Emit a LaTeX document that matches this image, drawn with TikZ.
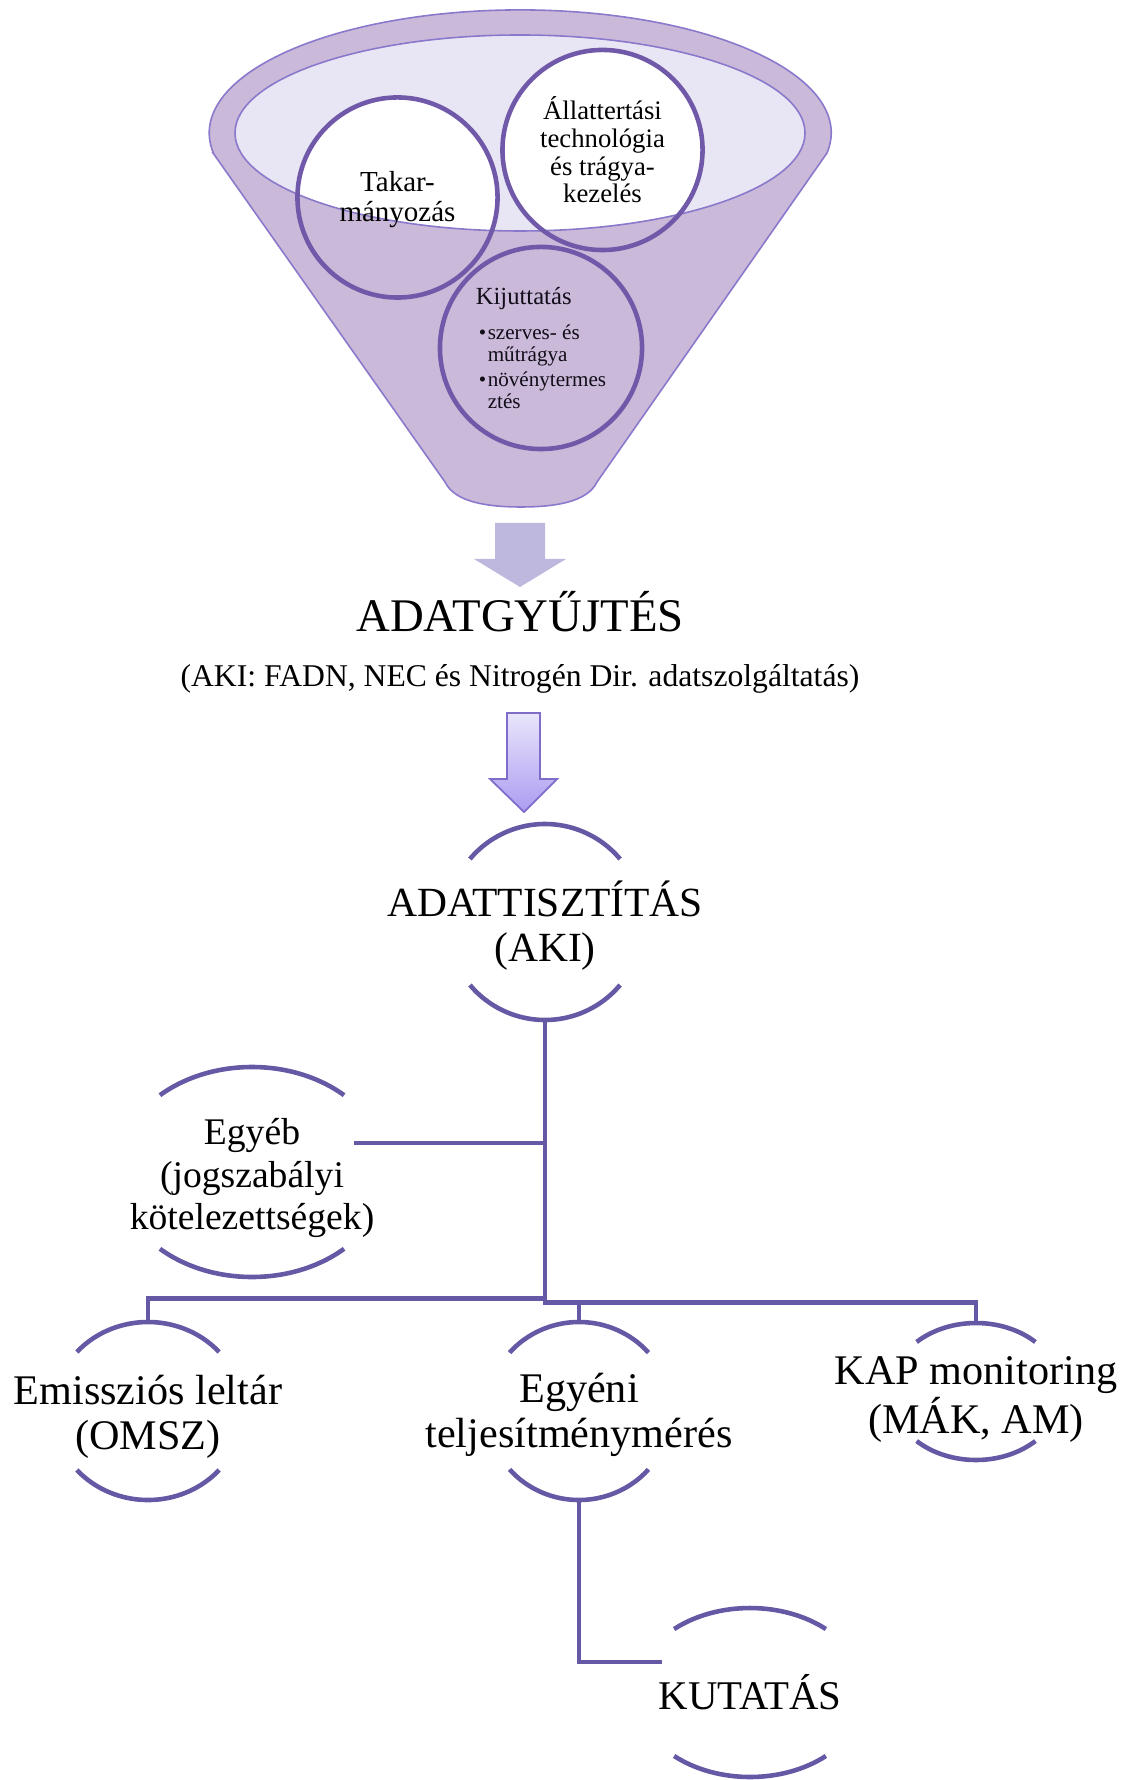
\documentclass[tikz,border=0pt]{standalone}
\usepackage{fontspec}
\setmainfont{Liberation Serif}

\definecolor{funnelfill}{HTML}{CAB9D8}
\definecolor{funnelline}{HTML}{8A78CC}
\definecolor{mouthfill}{HTML}{E8E6F4}
\definecolor{bubbleline}{HTML}{7059A9}
\definecolor{treeline}{HTML}{6558A5}
\definecolor{blockarrow}{HTML}{BFB8DE}
\definecolor{gradtop}{HTML}{E9E5FC}
\definecolor{gradbot}{HTML}{AD9CF1}
\definecolor{gradline}{HTML}{7F6DC9}

\newcommand{\bul}{\hspace*{0.85pt}\makebox[2.55pt][l]{\textbullet}}
\newcommand{\ind}{\hspace*{3.4pt}}
\newcommand{\moons}[5]{%
  \pgfmathsetmacro\moonA{180+#5}%
  \pgfmathsetmacro\moonD{180-2*#5}%
  \draw[moon] ({#1-#3*cos(#5)},{#2-#4*sin(#5)}) arc[start angle=\moonA, delta angle=\moonD, x radius=#3, y radius=#4];
  \draw[moon] ({#1+#3*cos(#5)},{#2+#4*sin(#5)}) arc[start angle=#5, delta angle=\moonD, x radius=#3, y radius=#4];
}

\begin{document}
\begin{tikzpicture}[x=0.01cm,y=-0.01cm,
  funnel/.style={fill=funnelfill,draw=funnelline,line width=0.45pt},
  bubble/.style={circle,draw=bubbleline,line width=1.3pt,align=center,inner sep=0pt},
  moon/.style={draw=treeline,line width=1.3pt},
  tree/.style={draw=treeline,line width=1.3pt},
  lbl/.style={align=center,inner sep=0pt}]
\useasboundingbox (0,0) rectangle (1126,1780);

\filldraw[funnel] (213,153) -- (445,482) .. controls (455,503) and (490,507) .. (521,507)
  .. controls (552,507) and (587,503) .. (597,482) -- (827,153)
  arc[start angle=9.4, end angle=-189.4, x radius=311, y radius=123] -- cycle;
\fill[mouthfill] (520,133) ellipse [x radius=285, y radius=98];
\begin{scope}
\clip (520,133) ellipse [x radius=285, y radius=98];
\fill[white] (397.5,197.5) circle [radius=100] (602.5,150) circle [radius=100];
\end{scope}
\draw[draw=funnelline,line width=0.45pt] (520,133) ellipse [x radius=285, y radius=98];

\node[bubble,minimum size=2cm,font=\fontsize{8.25}{8.5}\selectfont] (tak) at (397.5,197.5) {\vphantom{Á}Takar-\\mányozás};
\node[bubble,minimum size=2cm,font=\fontsize{7.6}{7.9}\selectfont] (all) at (602.5,150) {Állattertási\\technológia\\és trágya-\\kezelés};
\node[bubble,minimum size=2.02cm,align=left,font=\fontsize{6}{6.3}\selectfont,text=black!85!bubbleline] (kij) at (541,348)
  {{\fontsize{7}{7}\selectfont Kijuttatás}\\[3.7pt]\bul szerves- és\\\ind műtrágya\\[0.8pt]\bul növénytermes\\\ind ztés};

\fill[blockarrow] (495,523) -- (545,523) -- (545,559) -- (566,559) -- (520,587) -- (474,559) -- (495,559) -- cycle;
\node[anchor=base,font=\fontsize{13.3}{16}\selectfont] (gyujt) at (520,632) {ADATGYŰJTÉS};
\node[anchor=base,font=\fontsize{9}{11}\selectfont] (forras) at (520,687) {(AKI: FADN, NEC és Nitrogén Dir. adatszolgáltatás)};
\shadedraw[top color=gradtop,bottom color=gradbot,draw=gradline,line width=0.5pt] (507,713) -- (540,713) -- (540,779) -- (557,779) -- (524,812) -- (490,779) -- (507,779) -- cycle;

\node[lbl,minimum width=1.96cm,minimum height=1.89cm,font=\fontsize{11.8}{12.8}\selectfont] (tiszt) at (545,925.5) {ADATTISZTÍTÁS\\(AKI)};
\node[lbl,minimum width=2.7cm,minimum height=2.1cm,font=\fontsize{10.7}{12.1}\selectfont] (egyeb) at (252,1178) {Egyéb\\(jogszabályi\\kötelezettségek)};
\node[lbl,minimum width=1.9cm,minimum height=1.9cm,font=\fontsize{12}{12.8}\selectfont] (emis) at (148,1417) {Emissziós leltár\\(OMSZ)};
\node[lbl,minimum width=1.84cm,minimum height=1.78cm,font=\fontsize{12}{12.8}\selectfont] (egyeni) at (579,1411) {\vphantom{Á}Egyéni\\teljesítménymérés};
\node[lbl,minimum width=1.72cm,minimum height=1.53cm,font=\fontsize{12}{12.5}\selectfont] (kap) at (976,1399.5) {KAP monitoring\\(MÁK, AM)};
\node[lbl,minimum width=2.3cm,minimum height=1.69cm,font=\fontsize{11.6}{12.5}\selectfont] (kut) at (750,1692.5) {KUTATÁS};

\moons{545}{922}{98}{98}{40}
\moons{252}{1172}{135}{105}{47}
\moons{148}{1411}{95}{89}{41.5}
\moons{579}{1411}{92}{89}{41}
\moons{976}{1391.5}{86}{68.5}{46.3}
\moons{750}{1692.5}{115}{84.5}{48.7}

\coordinate (egyeb-tap) at (354,1143);
\coordinate (kut-tap) at (662,1662);
\draw[tree] (tiszt.south) -- ++(0,278) -| (emis.north);
\draw[tree] (tiszt.south) -- ++(0,282) -| (egyeni.north);
\draw[tree] (tiszt.south) -- ++(0,282) -| (kap.north);
\draw[tree] (egyeb-tap) -- (egyeb-tap -| tiszt.south);
\draw[tree] (egyeni.south) |- (kut-tap);
\end{tikzpicture}
\end{document}
